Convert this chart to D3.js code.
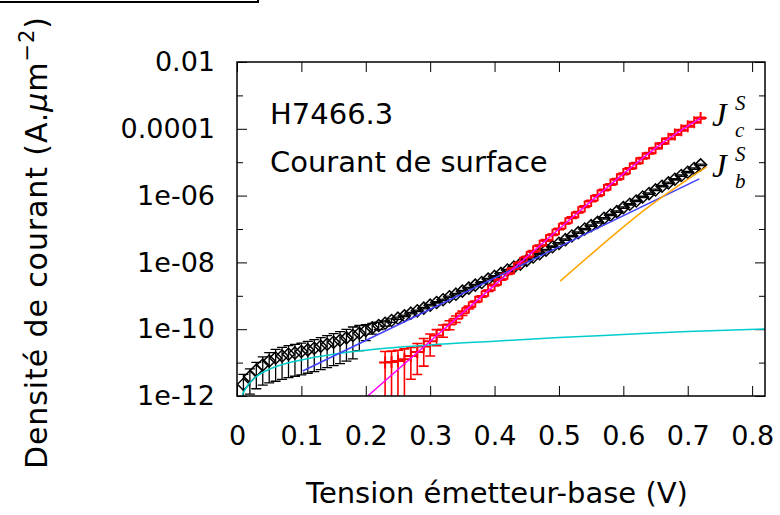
<!DOCTYPE html>
<html>
<head>
<meta charset="utf-8">
<script src="https://cdn.jsdelivr.net/npm/d3@7"></script>
<style>
  body { margin: 0; background: #fff; }
  svg { display: block; }
  text { font-family: "DejaVu Sans", sans-serif; fill: #000; }
</style>
</head>
<body>
<div id="chart"></div>
<script>
// J_b^S : base surface current (black diamonds)
const vb = [0.01, 0.02, 0.03, 0.04, 0.05, 0.06, 0.07, 0.08, 0.09, 0.10,
            0.11, 0.12, 0.13, 0.14, 0.15, 0.16, 0.17, 0.18, 0.19, 0.20,
            0.21, 0.22, 0.23, 0.24, 0.25, 0.26, 0.27, 0.28, 0.29, 0.30,
            0.31, 0.32, 0.33, 0.34, 0.35, 0.36, 0.37, 0.38, 0.39, 0.40,
            0.41, 0.42, 0.43, 0.44, 0.45, 0.46, 0.47, 0.48, 0.49, 0.50,
            0.51, 0.52, 0.53, 0.54, 0.55, 0.56, 0.57, 0.58, 0.59, 0.60,
            0.61, 0.62, 0.63, 0.64, 0.65, 0.66, 0.67, 0.68, 0.69, 0.70,
            0.71, 0.72];
const jb = [2.24e-12, 3.80e-12, 5.89e-12, 8.51e-12, 1.12e-11, 1.38e-11, 1.58e-11, 1.78e-11, 1.95e-11, 2.14e-11,
            2.40e-11, 2.69e-11, 3.09e-11, 3.55e-11, 4.07e-11, 4.68e-11, 5.50e-11, 6.46e-11, 7.59e-11, 9.12e-11,
            1.10e-10, 1.29e-10, 1.51e-10, 1.82e-10, 2.14e-10, 2.51e-10, 3.02e-10, 3.55e-10, 4.27e-10, 5.25e-10,
            6.31e-10, 7.59e-10, 9.33e-10, 1.12e-9, 1.38e-9, 1.70e-9, 2.09e-9, 2.51e-9, 3.16e-9, 3.80e-9,
            4.68e-9, 5.89e-9, 7.24e-9, 8.91e-9, 1.15e-8, 1.45e-8, 1.82e-8, 2.34e-8, 2.95e-8, 3.72e-8,
            4.79e-8, 6.17e-8, 7.76e-8, 1.00e-7, 1.26e-7, 1.58e-7, 2.09e-7, 2.63e-7, 3.31e-7, 4.37e-7,
            5.50e-7, 6.92e-7, 9.12e-7, 1.15e-6, 1.48e-6, 1.91e-6, 2.40e-6, 3.09e-6, 3.98e-6, 5.01e-6,
            6.46e-6, 8.32e-6];
// relative error (delta J / J)
const jbErr = [0.98, 0.70, 0.72, 0.75, 0.78, 0.80, 0.80, 0.80, 0.80, 0.80,
               0.80, 0.80, 0.80, 0.80, 0.80, 0.80, 0.80, 0.80, 0.70, 0.50,
               0.35, 0.25, 0.18, 0.12, 0.08, 0.05, 0.05, 0.05, 0.05, 0.05,
               0.05, 0.05, 0.05, 0.05, 0.05, 0.05, 0.05, 0.05, 0.05, 0.05,
               0.05, 0.05, 0.05, 0.05, 0.05, 0.05, 0.05, 0.05, 0.05, 0.05,
               0.05, 0.05, 0.05, 0.05, 0.05, 0.05, 0.05, 0.05, 0.05, 0.05,
               0.05, 0.05, 0.05, 0.05, 0.05, 0.05, 0.05, 0.05, 0.05, 0.05,
               0.05, 0.05];

// J_c^S : collector surface current (red crosses)
const vc = [0.23, 0.24, 0.25, 0.26, 0.27, 0.28, 0.29, 0.30,
            0.31, 0.32, 0.33, 0.34, 0.35, 0.36, 0.37, 0.38, 0.39, 0.40,
            0.41, 0.42, 0.43, 0.44, 0.45, 0.46, 0.47, 0.48, 0.49, 0.50,
            0.51, 0.52, 0.53, 0.54, 0.55, 0.56, 0.57, 0.58, 0.59, 0.60,
            0.61, 0.62, 0.63, 0.64, 0.65, 0.66, 0.67, 0.68, 0.69, 0.70,
            0.71, 0.72];
const jc = [1.00e-11, 1.05e-11, 1.12e-11, 1.26e-11, 1.58e-11, 2.09e-11, 3.02e-11, 4.37e-11,
            6.46e-11, 9.55e-11, 1.38e-10, 2.04e-10, 3.02e-10, 4.47e-10, 6.61e-10, 9.55e-10, 1.41e-9, 2.09e-9,
            3.09e-9, 4.57e-9, 6.61e-9, 9.77e-9, 1.45e-8, 2.14e-8, 3.16e-8, 4.57e-8, 6.76e-8, 1.00e-7,
            1.48e-7, 2.19e-7, 3.16e-7, 4.68e-7, 6.92e-7, 1.00e-6, 1.48e-6, 2.14e-6, 3.09e-6, 4.47e-6,
            6.46e-6, 9.33e-6, 1.32e-5, 1.86e-5, 2.63e-5, 3.63e-5, 5.01e-5, 6.76e-5, 9.12e-5, 1.20e-4,
            1.58e-4, 2.09e-4];
const jcErr = [1.15, 1.10, 1.10, 1.05, 0.80, 0.79, 0.74, 0.64,
               0.50, 0.40, 0.30, 0.22, 0.15, 0.10, 0.05, 0.05, 0.05, 0.05,
               0.05, 0.05, 0.05, 0.05, 0.05, 0.05, 0.05, 0.05, 0.05, 0.05,
               0.05, 0.05, 0.05, 0.05, 0.05, 0.05, 0.05, 0.05, 0.05, 0.05,
               0.05, 0.05, 0.05, 0.05, 0.05, 0.05, 0.05, 0.05, 0.05, 0.05,
               0.05, 0.05];

// fitted curves
const vOhm = [0.006, 0.01, 0.015, 0.02, 0.03, 0.05, 0.07, 0.10, 0.15, 0.20, 0.25, 0.30, 0.40, 0.50, 0.60, 0.70, 0.82];
const jOhm = [8.0e-13, 1.26e-12, 1.86e-12, 2.51e-12, 3.80e-12, 6.31e-12, 8.71e-12, 1.20e-11, 1.78e-11, 2.34e-11,
              2.88e-11, 3.39e-11, 4.37e-11, 5.62e-11, 6.92e-11, 8.51e-11, 1.02e-10];
const vFitB = [0.102, 0.718];
const jFitB = [5.62e-12, 3.16e-6];
const vFitB2 = [0.502, 0.563, 0.633, 0.729];
const jFitB2 = [2.75e-9, 2.88e-8, 3.72e-7, 7.24e-6];
const vFitC = [0.203, 0.30, 0.40, 0.50, 0.60, 0.65, 0.68, 0.72];
const jFitC = [1.0e-12, 4.37e-11, 2.09e-9, 1.0e-7, 4.47e-6, 2.63e-5, 6.76e-5, 2.09e-4];

const xTicks = [0, 0.1, 0.2, 0.3, 0.4, 0.5, 0.6, 0.7, 0.8];
const xTickLabels = ["0", "0.1", "0.2", "0.3", "0.4", "0.5", "0.6", "0.7", "0.8"];
const yTicks = [1e-12, 1e-10, 1e-8, 1e-6, 1e-4, 1e-2];
const yTickLabels = ["1e-12", "1e-10", "1e-08", "1e-06", "0.0001", "0.01"];
const yMinor = [1e-11, 1e-9, 1e-7, 1e-5, 1e-3];

const width = 780, height = 515;
const pLeft = 237, pRight = 765, pTop = 62, pBottom = 396;

const x = d3.scaleLinear().domain([0, 0.82]).range([pLeft, pRight]);
const y = d3.scaleLog().domain([1e-12, 1e-2]).range([pBottom, pTop]);

const svg = d3.select("#chart").append("svg")
    .attr("width", width)
    .attr("height", height);

svg.append("defs").append("clipPath").attr("id", "plotclip")
    .append("rect")
    .attr("x", pLeft).attr("y", pTop)
    .attr("width", pRight - pLeft).attr("height", pBottom - pTop);

// piece of a frame cut by the top edge
svg.append("rect")
    .attr("x", -5).attr("y", -30)
    .attr("width", 263).attr("height", 32)
    .attr("fill", "none").attr("stroke", "#000").attr("stroke-width", 2);

function styleAxis(g) {
    g.select(".domain").remove();
    g.selectAll("line").attr("stroke", "#000").attr("stroke-width", 1);
    g.selectAll("text").attr("font-family", "DejaVu Sans").attr("font-size", 27).attr("fill", "#000");
}

// axes, ticks pointing inward
svg.append("g").attr("transform", "translate(0," + pBottom + ")")
    .call(d3.axisBottom(x).tickValues(xTicks).tickSize(-10).tickPadding(30)
        .tickFormat((d, i) => xTickLabels[i]))
    .call(styleAxis);
svg.append("g").attr("transform", "translate(0," + pTop + ")")
    .call(d3.axisTop(x).tickValues(xTicks).tickSize(-10).tickFormat(""))
    .call(styleAxis);
svg.append("g").attr("transform", "translate(" + pLeft + ",0)")
    .call(d3.axisLeft(y).tickValues(yTicks).tickSize(-10).tickPadding(22)
        .tickFormat((d, i) => yTickLabels[i]))
    .call(styleAxis);
svg.append("g").attr("transform", "translate(" + pLeft + ",0)")
    .call(d3.axisLeft(y).tickValues(yMinor).tickSize(-6).tickFormat(""))
    .call(styleAxis);
svg.append("g").attr("transform", "translate(" + pRight + ",0)")
    .call(d3.axisRight(y).tickValues(yTicks).tickSize(-10).tickFormat(""))
    .call(styleAxis);
svg.append("g").attr("transform", "translate(" + pRight + ",0)")
    .call(d3.axisRight(y).tickValues(yMinor).tickSize(-6).tickFormat(""))
    .call(styleAxis);

const plot = svg.append("g").attr("clip-path", "url(#plotclip)");

function errPath(vs, js, errs) {
    return vs.map(function (v, i) {
        const px = x(v);
        const lo = y(Math.max(js[i] * (1 - errs[i]), 1e-13));
        const hi = y(js[i] * (1 + errs[i]));
        return "M" + px + "," + lo + "V" + hi +
               "M" + (px - 5) + "," + lo + "H" + (px + 5) +
               "M" + (px - 5) + "," + hi + "H" + (px + 5);
    }).join("");
}

// black data
plot.append("path")
    .attr("d", errPath(vb, jb, jbErr))
    .attr("fill", "none").attr("stroke", "#000").attr("stroke-width", 1.3);
plot.selectAll(".diam").data(vb).enter().append("path")
    .attr("class", "diam")
    .attr("transform", (d, i) => "translate(" + x(d) + "," + y(jb[i]) + ")")
    .attr("d", "M0,-6L6,0L0,6L-6,0Z")
    .attr("fill", "none").attr("stroke", "#000").attr("stroke-width", 1.5);

// red data
plot.append("path")
    .attr("d", errPath(vc, jc, jcErr))
    .attr("fill", "none").attr("stroke", "#ff0000").attr("stroke-width", 1.6);
plot.selectAll(".plus").data(vc).enter().append("path")
    .attr("class", "plus")
    .attr("transform", (d, i) => "translate(" + x(d) + "," + y(jc[i]) + ")")
    .attr("d", "M-6,0H6M0,-6V6")
    .attr("fill", "none").attr("stroke", "#ff0000").attr("stroke-width", 2);

// fit lines
function fitLine(vs, js, color, curve) {
    const line = d3.line()
        .x(d => x(d[0]))
        .y(d => y(d[1]))
        .curve(curve || d3.curveLinear);
    plot.append("path")
        .datum(vs.map((v, i) => [v, js[i]]))
        .attr("d", line)
        .attr("fill", "none").attr("stroke", color).attr("stroke-width", 1.5);
}
fitLine(vOhm, jOhm, "#00cccc", d3.curveMonotoneX);
fitLine(vFitB, jFitB, "#4040ff");
fitLine(vFitC, jFitC, "#ff00ff", d3.curveMonotoneX);
fitLine(vFitB2, jFitB2, "#ffa500", d3.curveMonotoneX);

// frame
svg.append("rect")
    .attr("x", pLeft).attr("y", pTop)
    .attr("width", pRight - pLeft).attr("height", pBottom - pTop)
    .attr("fill", "none").attr("stroke", "#000").attr("stroke-width", 1.5);

// annotations
svg.append("text").attr("x", 270).attr("y", 124).attr("font-size", 29).text("H7466.3");
svg.append("text").attr("x", 270).attr("y", 172).attr("font-size", 29).text("Courant de surface");

// J with superscript S and subscript
function jLabel(sub, yBase) {
    const t = svg.append("text")
        .attr("x", 712).attr("y", yBase)
        .attr("font-style", "italic")
        .style("font-family", "Liberation Serif")
        .attr("font-size", 33);
    t.append("tspan").text("J");
    t.append("tspan").attr("x", 735).attr("dy", -16).attr("font-size", 21).text("S");
    t.append("tspan").attr("x", 735).attr("dy", 27).attr("font-size", 21).text(sub);
}
jLabel("c", 126);
jLabel("b", 177);

// axis titles
svg.append("text")
    .attr("x", (pLeft + pRight) / 2 - 4).attr("y", 503)
    .attr("text-anchor", "middle").attr("font-size", 29)
    .text("Tension émetteur-base (V)");

const yl = svg.append("text")
    .attr("transform", "translate(47,469) rotate(-90)")
    .attr("font-size", 30)
    .attr("letter-spacing", 0.9);
yl.append("tspan").text("Densité de courant (A.");
yl.append("tspan").attr("font-style", "italic").text("µ");
yl.append("tspan").text("m");
yl.append("tspan").attr("dy", -13).attr("font-size", 21).text("−2");
yl.append("tspan").attr("dy", 13).text(")");
</script>
</body>
</html>
